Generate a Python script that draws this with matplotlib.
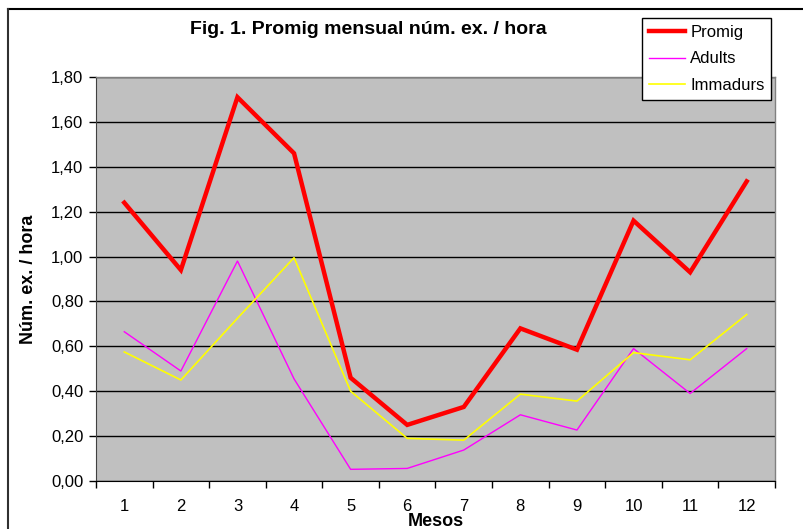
import matplotlib
matplotlib.use('Agg')
import matplotlib.pyplot as plt
from matplotlib.lines import Line2D

plt.rcParams['font.family'] = ['Liberation Sans', 'DejaVu Sans']

mesos = [1, 2, 3, 4, 5, 6, 7, 8, 9, 10, 11, 12]
promig = [1.24, 0.94, 1.71, 1.46, 0.46, 0.25, 0.33, 0.68, 0.585, 1.16, 0.93, 1.335]
adults = [0.665, 0.49, 0.98, 0.455, 0.052, 0.056, 0.138, 0.295, 0.227, 0.59, 0.39, 0.59]
immadurs = [0.575, 0.45, 0.725, 0.995, 0.40, 0.19, 0.182, 0.387, 0.356, 0.572, 0.54, 0.742]
yticks = [0.0, 0.2, 0.4, 0.6, 0.8, 1.0, 1.2, 1.4, 1.6, 1.8]

fig = plt.figure(figsize=(8.04, 5.29), dpi=100)
ax = fig.add_axes([96/804, 1-481/529, (775-96)/804, (481-77)/529])
ax.set_facecolor('#C0C0C0')

ax.plot(mesos, promig, color='#FF0000', lw=3.2, label='Promig', solid_joinstyle='miter')
ax.plot(mesos, adults, color='#FF00FF', lw=1.0, label='Adults')
ax.plot(mesos, immadurs, color='#FFFF00', lw=1.2, label='Immadurs')

ax.set_xlim(0.5, 12.5)
ax.set_ylim(0, 1.8)
ax.set_yticks(yticks)
ax.set_yticklabels([('%.2f' % v).replace('.', ',') for v in yticks])
ax.yaxis.grid(True, color='black', lw=1)
ax.set_axisbelow(True)

ax.set_xticks([m + 0.5 for m in [0] + mesos])
ax.set_xticklabels([])
ax.set_xticks(mesos, minor=True)
ax.set_xticklabels([str(m) for m in mesos], minor=True)
ax.tick_params(axis='x', which='major', length=5, width=1, direction='out')
ax.tick_params(axis='x', which='minor', length=0, pad=13, labelsize=12)
ax.tick_params(axis='y', length=5, width=1, direction='out', pad=4, labelsize=12)

for s in ['top', 'right']:
    ax.spines[s].set_color('#808080')
    ax.spines[s].set_linewidth(1)
ax.spines['left'].set_color('#404040')
ax.spines['bottom'].set_color('black')

ax.set_xlabel('Mesos', fontweight='bold', fontsize=13, labelpad=-0.5)
ax.set_ylabel('Núm. ex. / hora', fontweight='bold', fontsize=13, labelpad=10)

fig.text(368/804, 1-30/529, 'Fig. 1. Promig mensual núm. ex. / hora',
         ha='center', va='center', fontsize=14, fontweight='bold')

leg = ax.legend(loc='upper left', bbox_to_anchor=(642/804, 1-18/529),
                bbox_transform=fig.transFigure, fancybox=False, framealpha=1,
                edgecolor='black', fontsize=12, handlelength=2.2,
                handletextpad=0.3, labelspacing=0.7, borderpad=0.4,
                borderaxespad=0)
leg.get_frame().set_linewidth(1)

# outer chart border
fig.add_artist(Line2D([8/804, 1], [1-9/529, 1-9/529], color='black', lw=1.5,
                      transform=fig.transFigure))
fig.add_artist(Line2D([8/804, 8/804], [0, 1-9/529], color='#303030', lw=1.5,
                      transform=fig.transFigure))

fig.savefig('out.png', dpi=100)
